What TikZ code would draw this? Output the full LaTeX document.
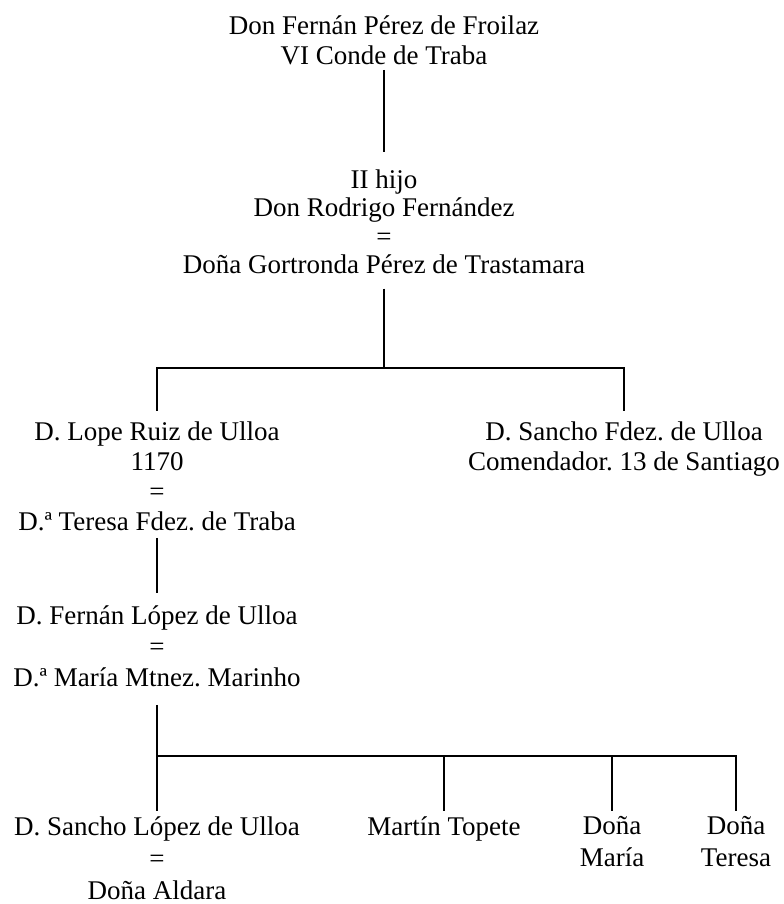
\documentclass[tikz,border=0pt]{standalone}
\usepackage{fontspec}
\setmainfont{Liberation Serif}
\usepackage{tikz}
\frenchspacing
\tikzstyle{person} = [
    align=center,
    inner sep=0pt,
    anchor=north,
    font=\fontsize{13.5}{15}\selectfont
]
\tikzstyle{line} = [
    line width=0.8pt,
    draw=black
]
\begin{document}
\begin{tikzpicture}[
                x=0.5pt, y=-0.5pt,
                tight/.style={
                    font=\fontsize{13.5}{14.3}\selectfont
                },
                loose/.style={
                    font=\fontsize{13.5}{16}\selectfont
                }
            ]
                \useasboundingbox (0,0) rectangle (783,904);
                % first generations
                \node[person] (VI) at (384,15) {Don Fernán Pérez de Froilaz\\VI Conde de Traba};
                \node[person, tight] (II) at (384,169) {II hijo\\Don Rodrigo Fernández\\=\\Doña Gortronda Pérez de Trastamara};
                \coordinate (J1) at (384,368);
                % sons of Don Rodrigo
                \node[person] (LR) at (157,421) {D. Lope Ruiz de Ulloa\\1170\\=\\D.ª Teresa Fdez. de Traba};
                \node[person] (SF) at (624,421) {D. Sancho Fdez. de Ulloa\\Comendador. 13 de Santiago};
                \node[person, font=\fontsize{13.5}{15.5}\selectfont] (FL) at (157,605) {D. Fernán López de Ulloa\\=\\D.ª María Mtnez. Marinho};
                \coordinate (J2) at (157,756);
                % last generation
                \node[person, loose] (SL) at (157,816) {D. Sancho López de Ulloa\\=\\Doña Aldara};
                \node[person, loose] (MT) at (444,816) {Martín Topete};
                \node[person, loose] (DM) at (612,816) {Doña\\María};
                \node[person, loose] (DT) at (736,816) {Doña\\Teresa};
                \draw[line, shorten <=2.5pt, shorten >=8.5pt] (VI) -- (II);
                \draw[line, shorten <=7pt] (II) -- (J1);
                \draw[line, shorten >=5pt] (J1) -| (LR);
                \draw[line, shorten >=5pt] (J1) -| (SF);
                \draw[line, shorten <=3.5pt, shorten >=6pt] (LR) -- (FL);
                \draw[line, shorten <=9pt] (FL) -- (J2);
                \draw[line, shorten >=2.5pt] (J2) -- (SL);
                \foreach \k in {MT,DM,DT}
                    \draw[line, shorten >=2.5pt] (J2) -| (\k);
            \end{tikzpicture}
\end{document}
